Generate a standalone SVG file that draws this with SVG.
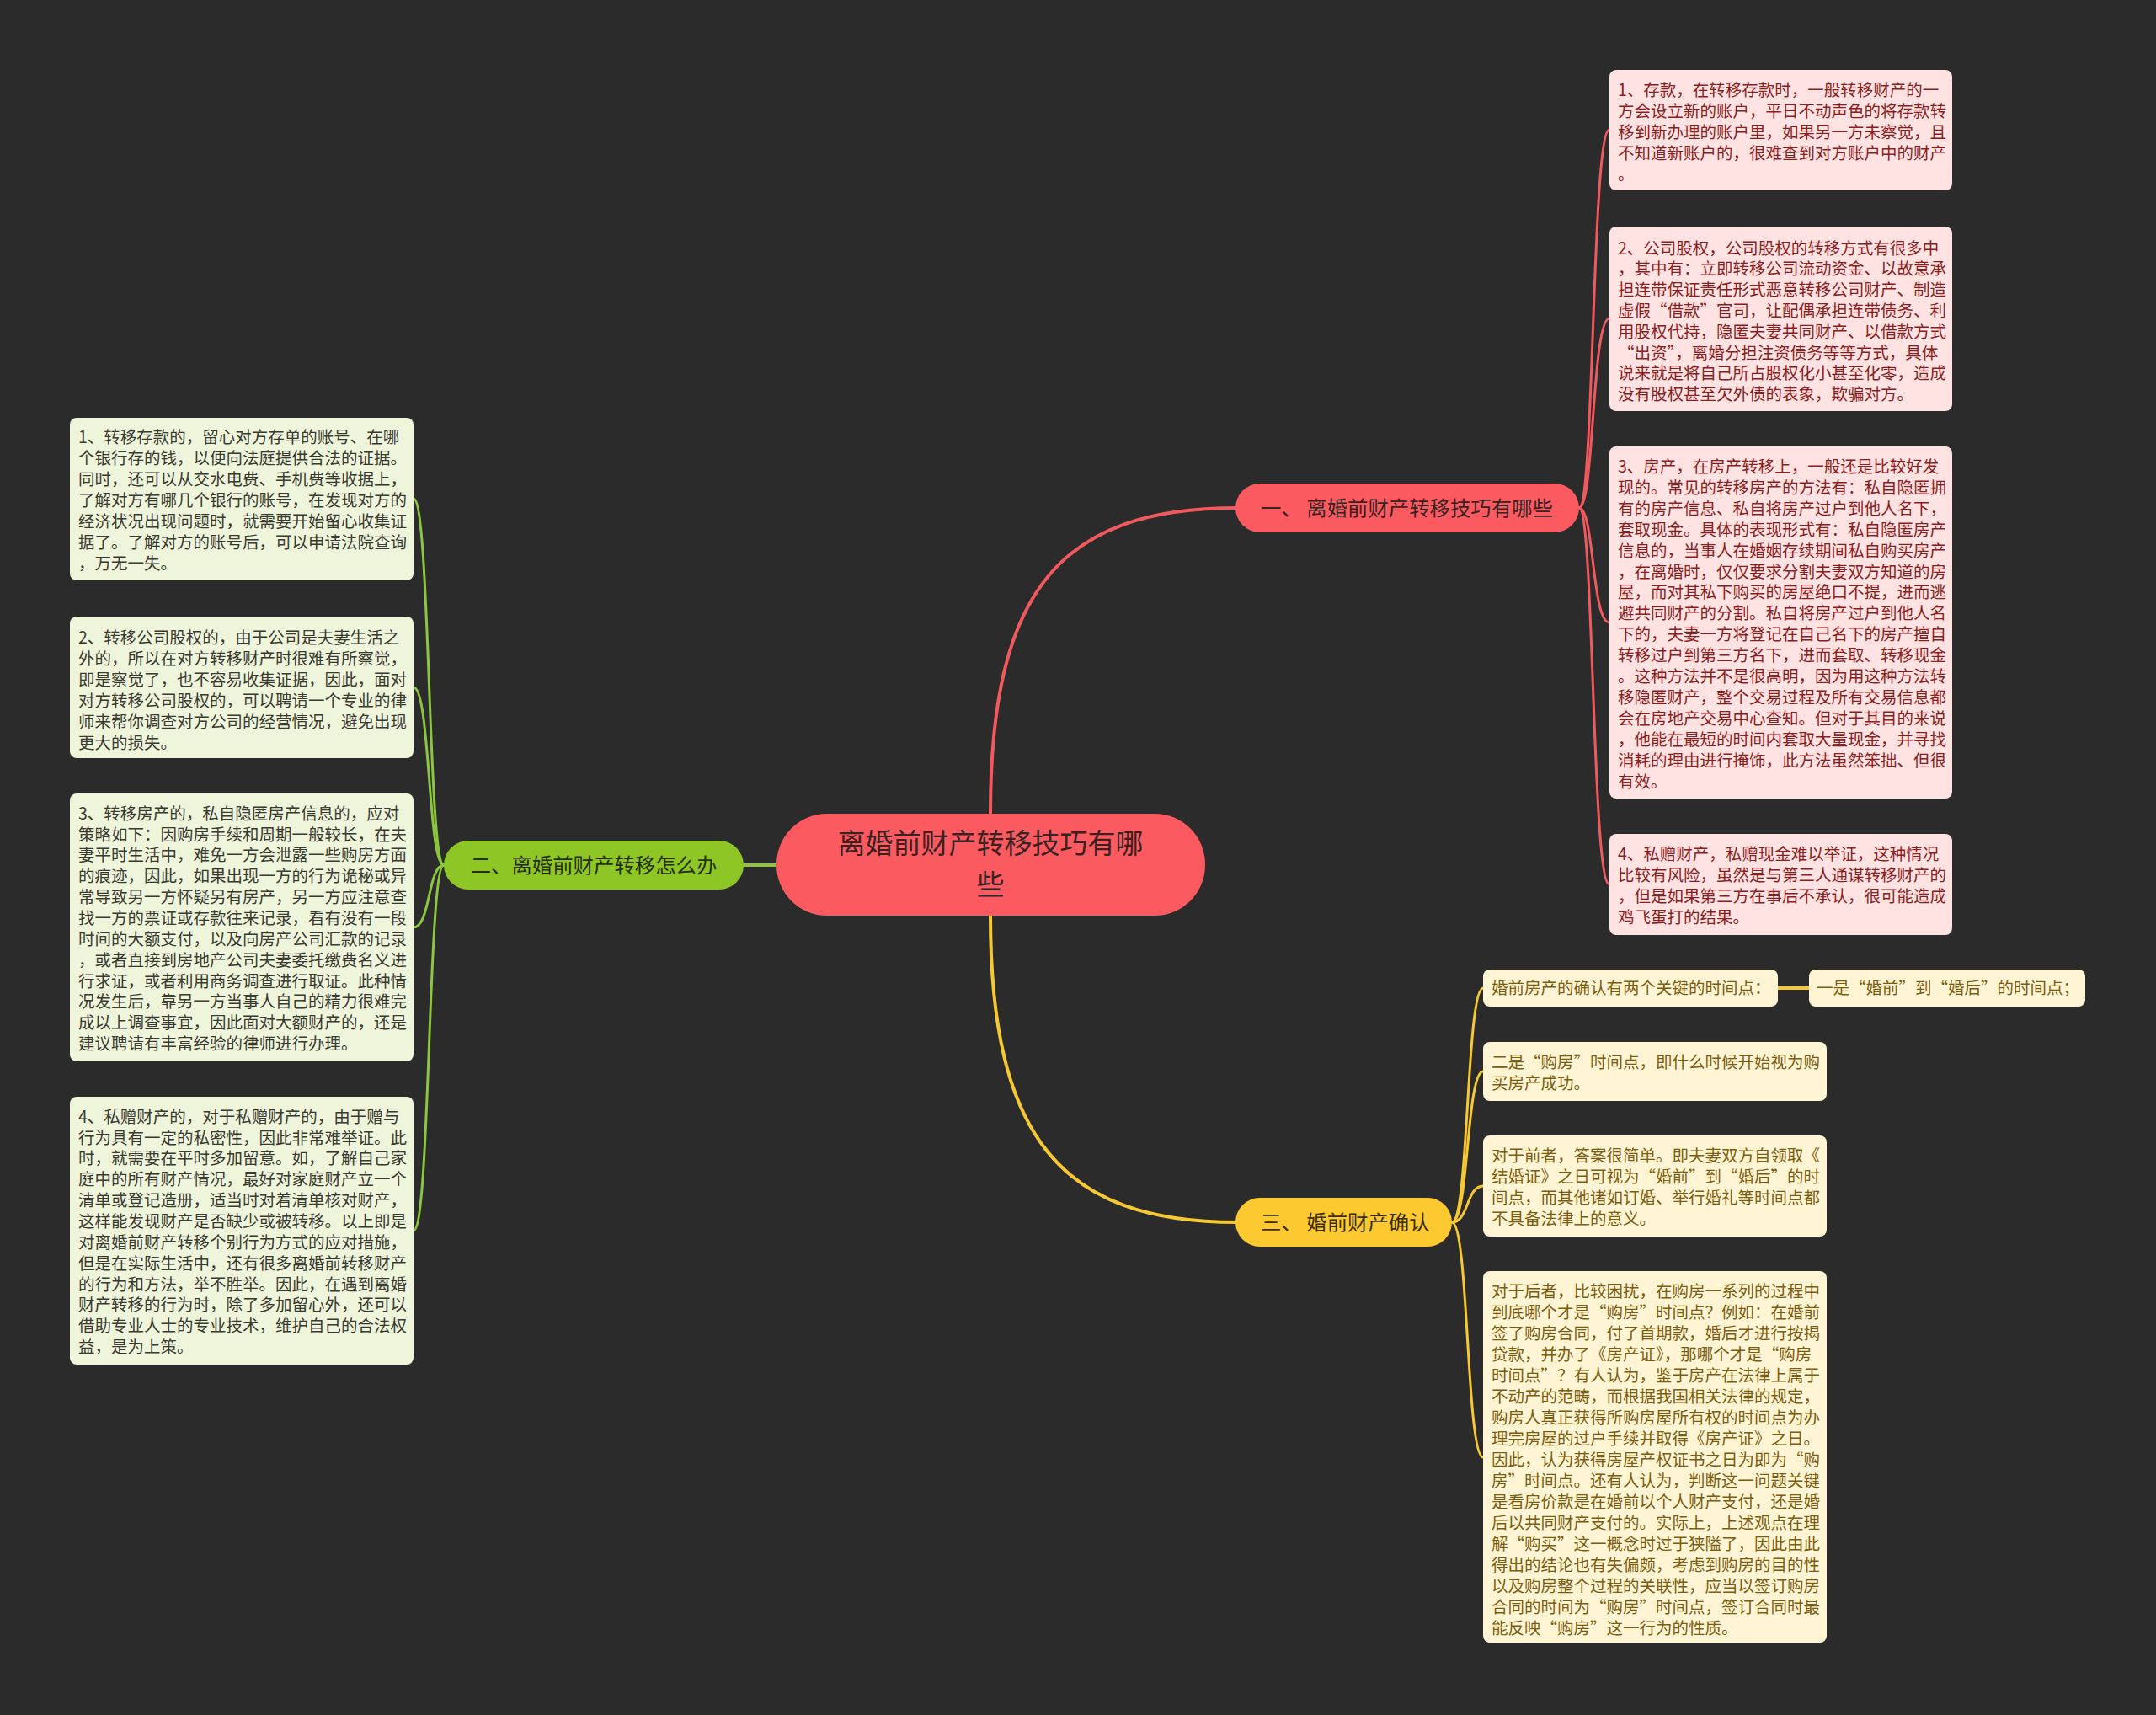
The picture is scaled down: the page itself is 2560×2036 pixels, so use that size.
<svg xmlns="http://www.w3.org/2000/svg" width="2560" height="2036" viewBox="0 0 2560 2036">
<style>
text{font-family:"Noto Sans CJK SC","Noto Sans",sans-serif;}
.bt{font-size:19.5px;}
.rt{fill:#8a1e1e;}
.gt{fill:#3a3a32;}
.yt{fill:#7c5d10;}
.rbox{fill:#ffe2e2;}
.gbox{fill:#eef5da;}
.ybox{fill:#fff5d4;}
.c{fill:none;stroke-linecap:round;}
.cr{stroke:#f0595e;}
.cg{stroke:#8cc63f;}
.cy{stroke:#f6c833;}
</style>
<rect width="2560" height="2036" fill="#2b2b2b"/>
<g id="connectors">
<path class="c cr" stroke-width="4" d="M1176,966 C1176,700 1260,603 1469,603"/>
<path class="c cy" stroke-width="4" d="M1176,1087 C1176,1350 1260,1451 1469,1451"/>
<path class="c cg" stroke-width="4" d="M922,1027 L883,1027"/>
<path class="c cr" stroke-width="3" d="M1875,603 C1893,603 1890,154 1911,154"/>
<path class="c cr" stroke-width="3" d="M1875,603 C1893,603 1890,378 1911,378"/>
<path class="c cr" stroke-width="3" d="M1875,603 C1893,603 1890,739 1911,739"/>
<path class="c cr" stroke-width="3" d="M1875,603 C1893,603 1890,1050 1911,1050"/>
<path class="c cg" stroke-width="3" d="M527,1027 C508,1027 511,592 491,592"/>
<path class="c cg" stroke-width="3" d="M527,1027 C508,1027 511,816 491,816"/>
<path class="c cg" stroke-width="3" d="M527,1027 C508,1027 511,1101 491,1101"/>
<path class="c cg" stroke-width="3" d="M527,1027 C508,1027 511,1461 491,1461"/>
<path class="c cy" stroke-width="3" d="M1724,1451 C1744,1451 1741,1173 1761,1173"/>
<path class="c cy" stroke-width="3" d="M1724,1451 C1744,1451 1741,1272 1761,1272"/>
<path class="c cy" stroke-width="3" d="M1724,1451 C1744,1451 1741,1408 1761,1408"/>
<path class="c cy" stroke-width="3" d="M1724,1451 C1744,1451 1741,1730 1761,1730"/>
<path class="c cy" stroke-width="4" d="M2111,1173 L2148,1173"/>
</g>
<g id="center">
<rect x="922" y="966" width="509" height="121" rx="60" fill="#fa5a60"/>
<text font-size="33" text-anchor="middle" fill="#3b2222"><tspan x="1176" y="1013">离婚前财产转移技巧有哪</tspan><tspan x="1176" y="1062">些</tspan></text>
</g>
<g id="branch1">
<rect x="1467" y="574" width="408" height="58" rx="29" fill="#fa5a60"/>
<text x="1497" y="612" font-size="24.4" fill="#3b2222">一、 离婚前财产转移技巧有哪些</text>
</g>
<g id="branch2">
<rect x="527" y="998" width="356" height="58" rx="29" fill="#8dc625"/>
<text x="705" y="1036" font-size="24.4" text-anchor="middle" fill="#26300f">二、离婚前财产转移怎么办</text>
</g>
<g id="branch3">
<rect x="1467" y="1422" width="257" height="58" rx="29" fill="#fcc930"/>
<text x="1497" y="1460" font-size="24.4" fill="#3a2e0a">三、 婚前财产确认</text>
</g>
<g id="r1">
<rect class="rbox" x="1911" y="83" width="407" height="143" rx="8"/>
<text class="bt rt">
<tspan x="1921" y="114">1、存款，在转移存款时，一般转移财产的一</tspan>
<tspan x="1921" y="139">方会设立新的账户，平日不动声色的将存款转</tspan>
<tspan x="1921" y="164">移到新办理的账户里，如果另一方未察觉，且</tspan>
<tspan x="1921" y="189">不知道新账户的，很难查到对方账户中的财产</tspan>
<tspan x="1921" y="214">。</tspan>
</text>
</g>
<g id="r2">
<rect class="rbox" x="1911" y="269" width="407" height="219" rx="8"/>
<text class="bt rt">
<tspan x="1921" y="301.5">2、公司股权，公司股权的转移方式有很多中</tspan>
<tspan x="1921" y="326.3">，其中有：立即转移公司流动资金、以故意承</tspan>
<tspan x="1921" y="351.1">担连带保证责任形式恶意转移公司财产、制造</tspan>
<tspan x="1921" y="375.9">虚假“借款”官司，让配偶承担连带债务、利</tspan>
<tspan x="1921" y="400.7">用股权代持，隐匿夫妻共同财产、以借款方式</tspan>
<tspan x="1921" y="425.5">“出资”，离婚分担注资债务等等方式，具体</tspan>
<tspan x="1921" y="450.3">说来就是将自己所占股权化小甚至化零，造成</tspan>
<tspan x="1921" y="475.1">没有股权甚至欠外债的表象，欺骗对方。</tspan>
</text>
</g>
<g id="r3">
<rect class="rbox" x="1911" y="530" width="407" height="418" rx="8"/>
<text class="bt rt">
<tspan x="1921" y="561">3、房产，在房产转移上，一般还是比较好发</tspan>
<tspan x="1921" y="585.9">现的。常见的转移房产的方法有：私自隐匿拥</tspan>
<tspan x="1921" y="610.8">有的房产信息、私自将房产过户到他人名下，</tspan>
<tspan x="1921" y="635.7">套取现金。具体的表现形式有：私自隐匿房产</tspan>
<tspan x="1921" y="660.6">信息的，当事人在婚姻存续期间私自购买房产</tspan>
<tspan x="1921" y="685.5">，在离婚时，仅仅要求分割夫妻双方知道的房</tspan>
<tspan x="1921" y="710.4">屋，而对其私下购买的房屋绝口不提，进而逃</tspan>
<tspan x="1921" y="735.3">避共同财产的分割。私自将房产过户到他人名</tspan>
<tspan x="1921" y="760.2">下的，夫妻一方将登记在自己名下的房产擅自</tspan>
<tspan x="1921" y="785.1">转移过户到第三方名下，进而套取、转移现金</tspan>
<tspan x="1921" y="810">。这种方法并不是很高明，因为用这种方法转</tspan>
<tspan x="1921" y="834.9">移隐匿财产，整个交易过程及所有交易信息都</tspan>
<tspan x="1921" y="859.8">会在房地产交易中心查知。但对于其目的来说</tspan>
<tspan x="1921" y="884.7">，他能在最短的时间内套取大量现金，并寻找</tspan>
<tspan x="1921" y="909.6">消耗的理由进行掩饰，此方法虽然笨拙、但很</tspan>
<tspan x="1921" y="934.5">有效。</tspan>
</text>
</g>
<g id="r4">
<rect class="rbox" x="1911" y="990" width="407" height="120" rx="8"/>
<text class="bt rt">
<tspan x="1921" y="1021">4、私赠财产，私赠现金难以举证，这种情况</tspan>
<tspan x="1921" y="1046">比较有风险，虽然是与第三人通谋转移财产的</tspan>
<tspan x="1921" y="1071">，但是如果第三方在事后不承认，很可能造成</tspan>
<tspan x="1921" y="1096">鸡飞蛋打的结果。</tspan>
</text>
</g>
<g id="l1">
<rect class="gbox" x="83" y="496" width="408" height="193" rx="8"/>
<text class="bt gt">
<tspan x="93" y="526">1、转移存款的，留心对方存单的账号、在哪</tspan>
<tspan x="93" y="551">个银行存的钱，以便向法庭提供合法的证据。</tspan>
<tspan x="93" y="576">同时，还可以从交水电费、手机费等收据上，</tspan>
<tspan x="93" y="601">了解对方有哪几个银行的账号，在发现对方的</tspan>
<tspan x="93" y="626">经济状况出现问题时，就需要开始留心收集证</tspan>
<tspan x="93" y="651">据了。了解对方的账号后，可以申请法院查询</tspan>
<tspan x="93" y="676">，万无一失。</tspan>
</text>
</g>
<g id="l2">
<rect class="gbox" x="83" y="732" width="408" height="168" rx="8"/>
<text class="bt gt">
<tspan x="93" y="763.5">2、转移公司股权的，由于公司是夫妻生活之</tspan>
<tspan x="93" y="788.5">外的，所以在对方转移财产时很难有所察觉，</tspan>
<tspan x="93" y="813.5">即是察觉了，也不容易收集证据，因此，面对</tspan>
<tspan x="93" y="838.5">对方转移公司股权的，可以聘请一个专业的律</tspan>
<tspan x="93" y="863.5">师来帮你调查对方公司的经营情况，避免出现</tspan>
<tspan x="93" y="888.5">更大的损失。</tspan>
</text>
</g>
<g id="l3">
<rect class="gbox" x="83" y="942" width="408" height="318" rx="8"/>
<text class="bt gt">
<tspan x="93" y="972.7">3、转移房产的，私自隐匿房产信息的，应对</tspan>
<tspan x="93" y="997.5">策略如下：因购房手续和周期一般较长，在夫</tspan>
<tspan x="93" y="1022.4">妻平时生活中，难免一方会泄露一些购房方面</tspan>
<tspan x="93" y="1047.2">的痕迹，因此，如果出现一方的行为诡秘或异</tspan>
<tspan x="93" y="1072.1">常导致另一方怀疑另有房产，另一方应注意查</tspan>
<tspan x="93" y="1096.9">找一方的票证或存款往来记录，看有没有一段</tspan>
<tspan x="93" y="1121.8">时间的大额支付，以及向房产公司汇款的记录</tspan>
<tspan x="93" y="1146.6">，或者直接到房地产公司夫妻委托缴费名义进</tspan>
<tspan x="93" y="1171.5">行求证，或者利用商务调查进行取证。此种情</tspan>
<tspan x="93" y="1196.3">况发生后，靠另一方当事人自己的精力很难完</tspan>
<tspan x="93" y="1221.2">成以上调查事宜，因此面对大额财产的，还是</tspan>
<tspan x="93" y="1246">建议聘请有丰富经验的律师进行办理。</tspan>
</text>
</g>
<g id="l4">
<rect class="gbox" x="83" y="1302" width="408" height="318" rx="8"/>
<text class="bt gt">
<tspan x="93" y="1332.7">4、私赠财产的，对于私赠财产的，由于赠与</tspan>
<tspan x="93" y="1357.5">行为具有一定的私密性，因此非常难举证。此</tspan>
<tspan x="93" y="1382.4">时，就需要在平时多加留意。如，了解自己家</tspan>
<tspan x="93" y="1407.2">庭中的所有财产情况，最好对家庭财产立一个</tspan>
<tspan x="93" y="1432.1">清单或登记造册，适当时对着清单核对财产，</tspan>
<tspan x="93" y="1456.9">这样能发现财产是否缺少或被转移。以上即是</tspan>
<tspan x="93" y="1481.8">对离婚前财产转移个别行为方式的应对措施，</tspan>
<tspan x="93" y="1506.6">但是在实际生活中，还有很多离婚前转移财产</tspan>
<tspan x="93" y="1531.5">的行为和方法，举不胜举。因此，在遇到离婚</tspan>
<tspan x="93" y="1556.3">财产转移的行为时，除了多加留心外，还可以</tspan>
<tspan x="93" y="1581.2">借助专业人士的专业技术，维护自己的合法权</tspan>
<tspan x="93" y="1606">益，是为上策。</tspan>
</text>
</g>
<g id="y1">
<rect class="ybox" x="1761" y="1151" width="350" height="44" rx="8"/>
<text class="bt yt" x="1771" y="1180">婚前房产的确认有两个关键的时间点：</text>
</g>
<g id="y1b">
<rect class="ybox" x="2148" y="1151" width="328" height="44" rx="8"/>
<text class="bt yt" x="2157" y="1180">一是“婚前”到“婚后”的时间点；</text>
</g>
<g id="y2">
<rect class="ybox" x="1761" y="1237" width="408" height="70" rx="8"/>
<text class="bt yt">
<tspan x="1771" y="1267.5">二是“购房”时间点，即什么时候开始视为购</tspan>
<tspan x="1771" y="1292.5">买房产成功。</tspan>
</text>
</g>
<g id="y3">
<rect class="ybox" x="1761" y="1348" width="408" height="120" rx="8"/>
<text class="bt yt">
<tspan x="1771" y="1379">对于前者，答案很简单。即夫妻双方自领取《</tspan>
<tspan x="1771" y="1404">结婚证》之日可视为“婚前”到“婚后”的时</tspan>
<tspan x="1771" y="1429">间点，而其他诸如订婚、举行婚礼等时间点都</tspan>
<tspan x="1771" y="1454">不具备法律上的意义。</tspan>
</text>
</g>
<g id="y4">
<rect class="ybox" x="1761" y="1509" width="408" height="441" rx="8"/>
<text class="bt yt">
<tspan x="1771" y="1539.5">对于后者，比较困扰，在购房一系列的过程中</tspan>
<tspan x="1771" y="1564.5">到底哪个才是“购房”时间点？例如：在婚前</tspan>
<tspan x="1771" y="1589.5">签了购房合同，付了首期款，婚后才进行按揭</tspan>
<tspan x="1771" y="1614.5">贷款，并办了《房产证》，那哪个才是“购房</tspan>
<tspan x="1771" y="1639.5">时间点”？有人认为，鉴于房产在法律上属于</tspan>
<tspan x="1771" y="1664.5">不动产的范畴，而根据我国相关法律的规定，</tspan>
<tspan x="1771" y="1689.5">购房人真正获得所购房屋所有权的时间点为办</tspan>
<tspan x="1771" y="1714.5">理完房屋的过户手续并取得《房产证》之日。</tspan>
<tspan x="1771" y="1739.5">因此，认为获得房屋产权证书之日为即为“购</tspan>
<tspan x="1771" y="1764.5">房”时间点。还有人认为，判断这一问题关键</tspan>
<tspan x="1771" y="1789.5">是看房价款是在婚前以个人财产支付，还是婚</tspan>
<tspan x="1771" y="1814.5">后以共同财产支付的。实际上，上述观点在理</tspan>
<tspan x="1771" y="1839.5">解“购买”这一概念时过于狭隘了，因此由此</tspan>
<tspan x="1771" y="1864.5">得出的结论也有失偏颇，考虑到购房的目的性</tspan>
<tspan x="1771" y="1889.5">以及购房整个过程的关联性，应当以签订购房</tspan>
<tspan x="1771" y="1914.5">合同的时间为“购房”时间点，签订合同时最</tspan>
<tspan x="1771" y="1939.5">能反映“购房”这一行为的性质。</tspan>
</text>
</g>
</svg>
